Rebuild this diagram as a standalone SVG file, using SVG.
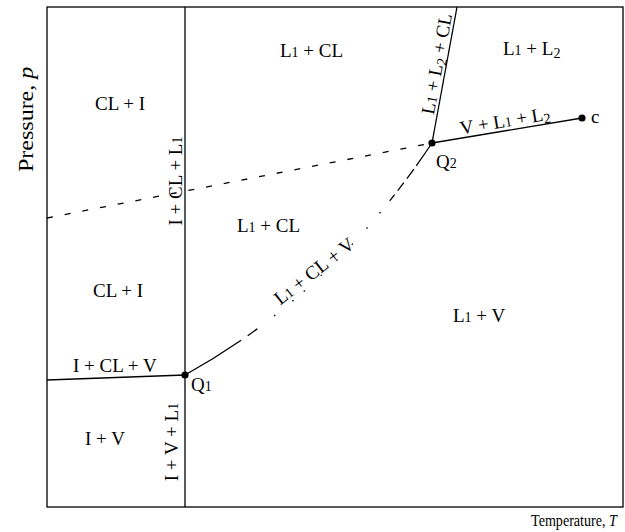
<svg xmlns="http://www.w3.org/2000/svg" width="625" height="532" viewBox="0 0 625 532">
<style>
text{font-family:"Liberation Serif","Times New Roman",serif;font-size:19px;fill:#000}
.ln{stroke:#000;stroke-width:1.3;fill:none}
.s{font-size:14px}
.sub{font-size:14px}
</style>
<rect width="625" height="532" fill="#fff"/>
<g id="frame"><rect class="ln" x="47" y="7" width="576" height="500"/></g>
<g id="connectors">
<line class="ln" x1="185" y1="7" x2="185" y2="507"/>
<line class="ln" x1="47" y1="380" x2="185" y2="375"/>
<line class="ln" x1="47" y1="218" x2="432" y2="143" stroke-dasharray="6 12"/>
<path class="ln" d="M185,375 Q330.8,294.8 432,143" stroke-dasharray="66 8 12 21 1.5 22 1.5 13.5 1.5 21.5 1.5 20.5 1.5 20.5 1.5 20.5 1.5 18.5 1.5 14.5 8 5 10 5 12 4 40"/>
<line class="ln" x1="432" y1="143" x2="457" y2="7"/>
<line class="ln" x1="432" y1="143" x2="582" y2="118"/>
</g>
<g id="Q1"><circle cx="185" cy="375" r="3.6"/><text x="191" y="391">Q<tspan class="s">1</tspan></text></g>
<g id="Q2"><circle cx="432" cy="143" r="3.6"/><text x="436" y="168">Q<tspan class="s">2</tspan></text></g>
<g id="c"><circle cx="582" cy="118" r="3.6"/><text x="591" y="123">c</text></g>
<g id="labels">
<text x="280" y="57">L<tspan class="s">1</tspan> + CL</text>
<text x="503" y="55">L<tspan class="s">1</tspan> + L<tspan class="sub" dy="3">2</tspan></text>
<text x="95" y="110">CL + I</text>
<text x="237" y="232">L<tspan class="s">1</tspan> + CL</text>
<text x="93" y="297">CL + I</text>
<text x="453" y="322">L<tspan class="s">1</tspan> + V</text>
<text x="73" y="372">I + CL + V</text>
<text x="85" y="445">I + V</text>
<text text-anchor="middle" transform="translate(182,181) rotate(-90)">I + CL + L<tspan class="s">1</tspan></text>
<text text-anchor="middle" transform="translate(178,442) rotate(-90)">I + V + L<tspan class="s">1</tspan></text>
<text text-anchor="middle" transform="translate(443,65) rotate(-79.6)">L<tspan class="s">1</tspan> + L<tspan class="sub" dy="3">2</tspan><tspan dy="-3"> + CL</tspan></text>
<text text-anchor="middle" transform="translate(506,127) rotate(-9.5)">V + L<tspan class="s">1</tspan> + L<tspan class="sub" dy="3">2</tspan></text>
<text text-anchor="middle" transform="translate(318,276) rotate(-38)">L<tspan class="s">1</tspan> + CL + V</text>
<text transform="translate(33,172) rotate(-90) scale(1.2,1)" style="font-size:20px">Pressure, <tspan font-style="italic">p</tspan></text>
<text transform="translate(531,526) scale(0.83,1)" style="font-size:17px">Temperature, <tspan font-style="italic">T</tspan></text>
</g>
</svg>
